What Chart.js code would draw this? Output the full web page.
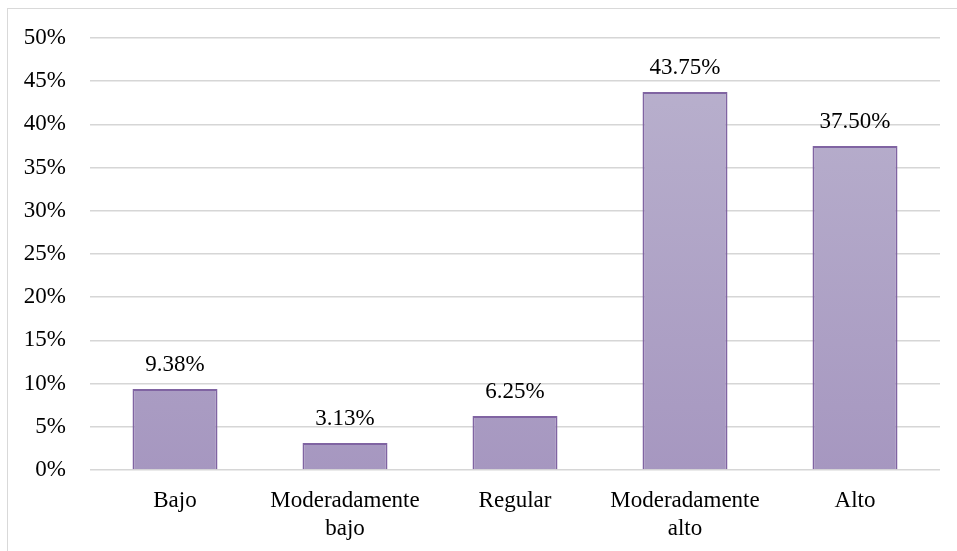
<!DOCTYPE html>
<html>
<head>
<meta charset="utf-8">
<script src="https://cdn.jsdelivr.net/npm/chart.js@4.4.0/dist/chart.umd.min.js"></script>
<style>
    body { margin: 0; background: #fff; overflow: hidden; }
    .frame { position: absolute; left: 7px; top: 8px; width: 1000px; height: 600px; border: 1px solid #d9d9d9; }
    .wrap { position: absolute; left: 0; top: 0; width: 957px; height: 551px; }
</style>
</head>
<body>
<div class="frame"></div>
<div class="wrap"><canvas id="chart"></canvas></div>
<script>
const categories = ['Bajo', ['Moderadamente', 'bajo'], 'Regular', ['Moderadamente', 'alto'], 'Alto'];
const values = [9.38, 3.13, 6.25, 43.75, 37.50];
const yTicks = [0, 5, 10, 15, 20, 25, 30, 35, 40, 45, 50];

const serif = "'Liberation Serif', 'Times New Roman', serif";

// value labels over the bars
const barLabels = {
    id: 'barLabels',
    afterDatasetsDraw(chart) {
        const ctx = chart.ctx;
        const meta = chart.getDatasetMeta(0);
        ctx.save();
        ctx.font = '23px ' + serif;
        ctx.fillStyle = '#000';
        ctx.textAlign = 'center';
        ctx.textBaseline = 'middle';
        meta.data.forEach((bar, i) => {
            ctx.fillText(values[i].toFixed(2) + '%', bar.x, bar.y - 24);
        });
        ctx.restore();
    }
};

function barGradient(context) {
    const area = context.chart.chartArea;
    if (!area) return '#b0a4c7';
    const g = context.chart.ctx.createLinearGradient(0, area.top, 0, area.bottom);
    g.addColorStop(0, '#bab2ce');
    g.addColorStop(1, '#a697c0');
    return g;
}

new Chart(document.getElementById('chart'), {
    type: 'bar',
    data: {
        labels: categories,
        datasets: [{
            data: values,
            backgroundColor: barGradient,
            borderColor: '#8064a2',
            borderWidth: 2,
            barPercentage: 0.5,
            categoryPercentage: 1
        }]
    },
    options: {
        responsive: true,
        maintainAspectRatio: false,
        animation: false,
        layout: { padding: { left: 0, right: 17, top: 38, bottom: 0 } },
        plugins: { legend: { display: false }, tooltip: { enabled: false } },
        scales: {
            x: {
                grid: { display: false, drawTicks: false },
                border: { display: false },
                ticks: { color: '#000', font: { family: serif, size: 23, lineHeight: 1.22 }, padding: 17, maxRotation: 0, autoSkip: false },
                afterFit(scale) { scale.height = 81; }
            },
            y: {
                min: 0,
                max: 50,
                afterBuildTicks(scale) { scale.ticks = yTicks.map(v => ({ value: v })); },
                grid: { color: '#d6d6d6', lineWidth: 1.5, drawTicks: false },
                border: { display: false },
                ticks: { color: '#000', font: { family: serif, size: 23 }, padding: 24, callback: v => v + '%' },
                afterFit(scale) { scale.width = 90; }
            }
        }
    },
    plugins: [barLabels]
});
</script>
</body>
</html>
